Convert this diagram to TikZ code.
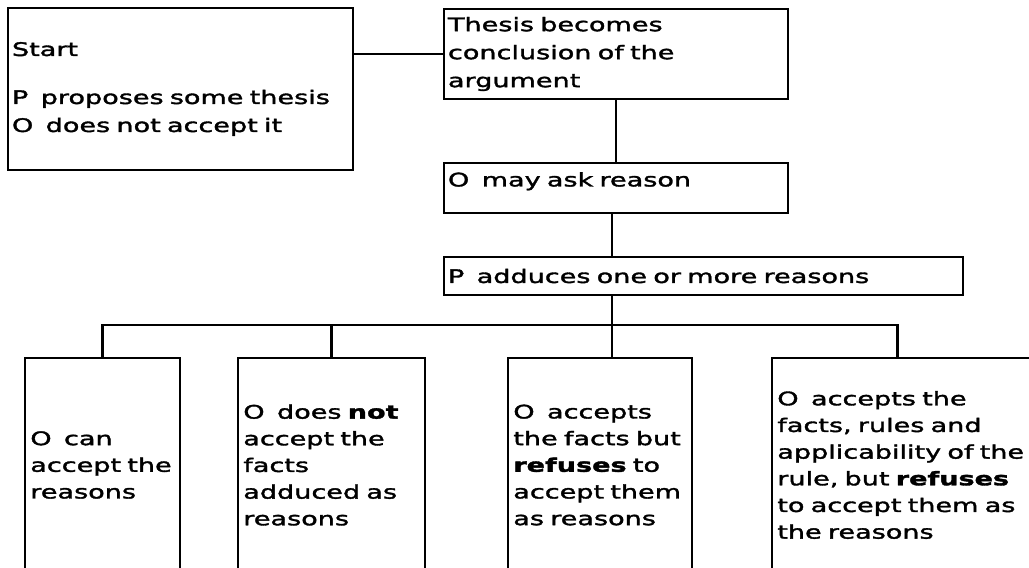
\documentclass[tikz,border=0pt]{standalone}
\usepackage{fontspec}
\setmainfont{DejaVu Sans}[FakeStretch=1.45,FakeBold=1.8]
\usetikzlibrary{calc}
\begin{document}
\begin{tikzpicture}[x=0.75pt,y=-0.75pt,line width=1.6pt,
  stepbox/.style={draw,rectangle,align=left,inner xsep=3pt,inner ysep=0pt,font=\fontsize{14}{21}\selectfont},
  lowbox/.style={stepbox,minimum height=160.5pt,inner xsep=4pt,font=\fontsize{14}{20}\selectfont}]
\useasboundingbox (0,0) rectangle (1029,568);
\node[stepbox,text width=252.75pt,minimum height=121.5pt] (start) at (180.5,89) {Start\\[15pt]P\ \ proposes some thesis\\O\ \ does not accept it};
\node[stepbox,text width=252pt,minimum height=67.5pt] (thesis) at (616,54) {Thesis becomes\\conclusion of the\\argument};
\node[stepbox,text width=252pt,minimum height=37.5pt] (ask) at (616,188) {O\ \ may ask reason\\[-8pt]\mbox{}};
\node[stepbox,text width=383.25pt,minimum height=28.5pt] (adduce) at (703.5,276) {P\ \ adduces one or more reasons};

\node[lowbox,text width=108.25pt] (can) at (102.5,465) {O\ \ can\\accept the\\reasons};
\node[lowbox,text width=132.25pt] (facts) at (331.5,465) {O\ \ does \textbf{not}\\accept the\\facts\\adduced as\\reasons};
\node[lowbox,text width=130pt] (refuse) at (600,465) {O\ \ accepts\\the facts but\\\textbf{refuses} to\\accept them\\as reasons};
\node[lowbox,text width=196.75pt] (rule) at (908.5,465) {O\ \ accepts the\\facts, rules and\\applicability of the\\rule, but \textbf{refuses}\\to accept them as\\the reasons};

\coordinate (hub) at (612,325);
\coordinate (ruletop) at ($(rule.north)+(-11,0)$);
\draw (start.east |- thesis.west) -- (thesis.west);
\draw (thesis) -- (ask);
\draw (ask.south -| hub) -- (adduce.north -| hub);
\draw (adduce.south -| hub) -- (hub);
\draw (can) |- (hub) -| (ruletop);
\draw (facts) -- (facts |- hub);
\draw (refuse.north -| hub) -- (hub);
\end{tikzpicture}
\end{document}
